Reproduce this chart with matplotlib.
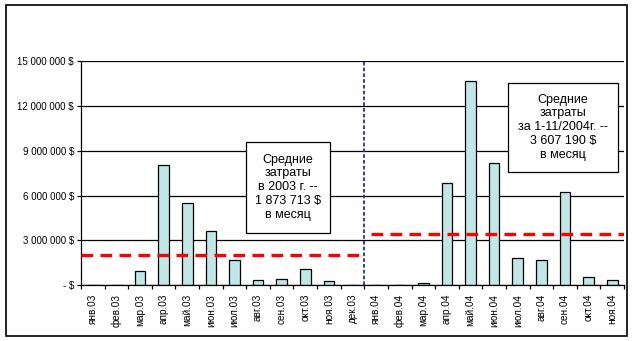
import matplotlib.pyplot as plt
import matplotlib.patches as patches
from matplotlib.ticker import FuncFormatter, FixedLocator

plt.rcParams['font.family'] = ['Liberation Sans', 'DejaVu Sans']

months = ['янв', 'фев', 'мар', 'апр', 'май', 'июн',
          'июл', 'авг', 'сен', 'окт', 'ноя', 'дек']
labels_2003 = [m + '.03' for m in months]
labels_2004 = [m + '.04' for m in months[:11]]
labels = labels_2003 + labels_2004

# monthly costs, $
costs_2003 = [0, 50000, 940000, 8060000, 5510000, 3640000,
              1700000, 380000, 450000, 1120000, 310000, 50000]
costs_2004 = [0, 50000, 150000, 6830000, 13640000, 8170000,
              1810000, 1670000, 6230000, 540000, 330000]
costs = costs_2003 + costs_2004

# level of the red dashed lines as drawn
avg_line_2003 = 2000000
avg_line_2004 = 3430000

yticks = [0, 3000000, 6000000, 9000000, 12000000, 15000000]

fig = plt.figure(figsize=(6.34, 3.41), dpi=100)
ax = fig.add_axes([81 / 634, 1 - 285.3 / 341, 543 / 634, 224.3 / 341])

# outer frame
fig.patches.append(patches.Rectangle(
    (6 / 634, 1 - 336 / 341), 621 / 634, 331 / 341,
    transform=fig.transFigure, fill=False, edgecolor='black', linewidth=1.2))

x = list(range(len(costs)))
ax.set_axisbelow(True)
ax.yaxis.grid(True, color='black', linewidth=0.9)
ax.bar(x, costs, width=0.45, color='#c0e6e6', edgecolor='black', linewidth=0.9, zorder=2)

n03 = len(costs_2003)
ax.plot([-0.5, n03 - 0.7], [avg_line_2003] * 2, color='red', linewidth=2.4,
        dashes=(3.5, 2.2), zorder=3)
ax.plot([n03 - 0.2, len(costs) - 0.5], [avg_line_2004] * 2, color='red', linewidth=2.4,
        dashes=(3.5, 2.2), zorder=3)
ax.axvline(n03 - 0.5, color='#2b2b9e', linewidth=1.3, dashes=(2, 1.2), zorder=3)

ax.set_xlim(-0.5, len(costs) - 0.5)
ax.set_ylim(0, 15000000)
ax.set_yticks(yticks)
ax.yaxis.set_major_formatter(FuncFormatter(
    lambda v, p: '- $' if v == 0 else '{:,.0f} $'.format(v).replace(',', ' ')))
ax.tick_params(axis='y', labelsize=7, length=3, width=0.9, pad=2)

ax.xaxis.set_major_locator(FixedLocator([i - 0.5 for i in range(len(costs) + 1)]))
ax.xaxis.set_major_formatter(FuncFormatter(lambda v, p: ''))
ax.xaxis.set_minor_locator(FixedLocator(x))
ax.set_xticklabels(labels, minor=True, rotation=90, fontsize=7.2)
ax.tick_params(axis='x', which='major', length=3, width=0.9)
ax.tick_params(axis='x', which='minor', length=0, pad=6)

for s in ['top', 'right']:
    ax.spines[s].set_visible(False)
for s in ['left', 'bottom']:
    ax.spines[s].set_linewidth(0.9)

# annotation boxes
box1 = patches.Rectangle((0.304, 0.233), 0.155, 0.408, transform=ax.transAxes,
                         facecolor='white', edgecolor='black', linewidth=0.9, zorder=4)
ax.add_patch(box1)
ax.text(0.3815, 0.437, 'Средние\nзатраты\nв 2003 г. --\n1 873 713 $\nв месяц',
        transform=ax.transAxes, ha='center', va='center', fontsize=9,
        linespacing=1.2, zorder=5)

box2 = patches.Rectangle((0.786, 0.506), 0.203, 0.397, transform=ax.transAxes,
                         facecolor='white', edgecolor='black', linewidth=0.9, zorder=4)
ax.add_patch(box2)
ax.text(0.8875, 0.7045, 'Средние\nзатраты\nза 1-11/2004г. --\n3 607 190 $\nв месяц',
        transform=ax.transAxes, ha='center', va='center', fontsize=9,
        linespacing=1.2, zorder=5)

fig.savefig('out.png', dpi=100)
